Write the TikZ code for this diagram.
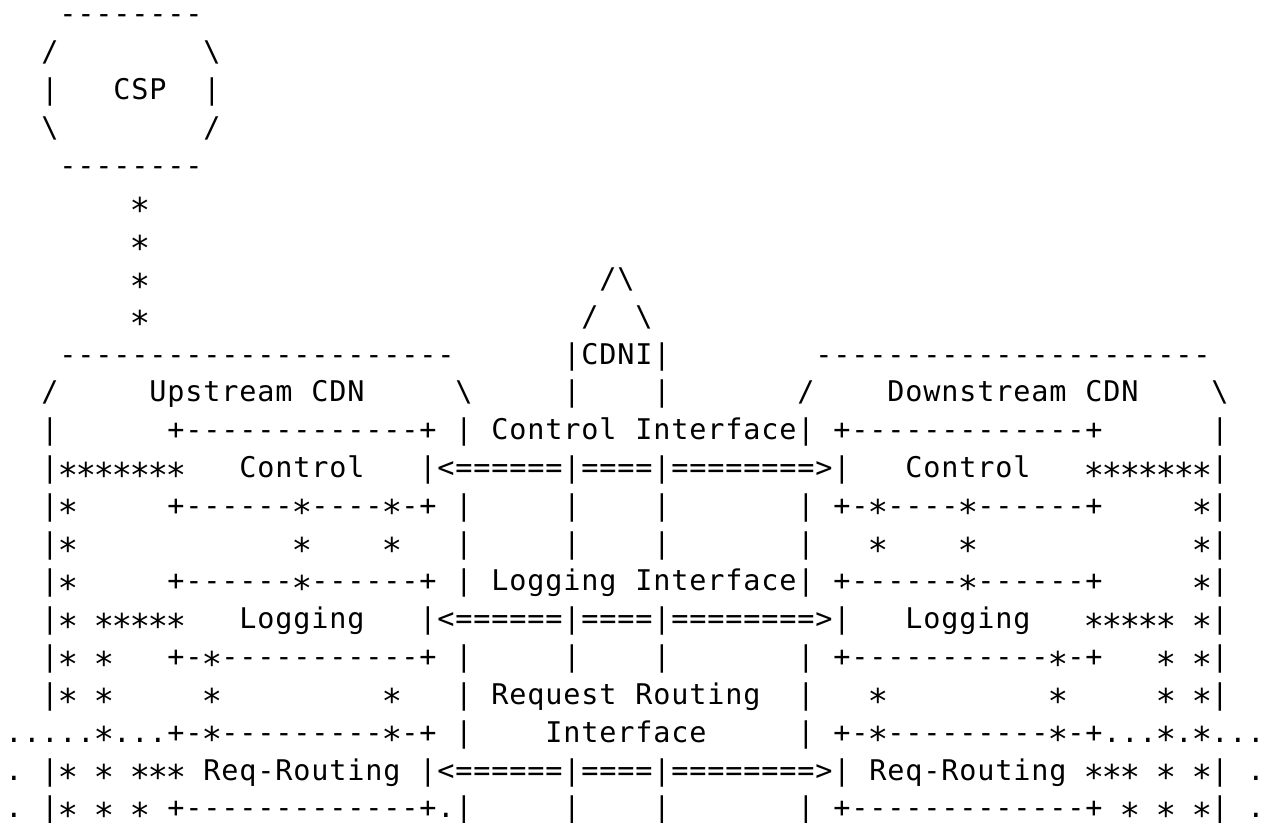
\documentclass[tikz,border=0pt]{standalone}
\usepackage{fontspec}
\setmonofont{DejaVu Sans Mono}
\newcommand\artchar[1]{\ifx*#1\raisebox{-9.5pt}{\scalebox{1.2}{*}}\else#1\fi}
\newcommand\artloop[1]{\ifx\relax#1\else\makebox[18pt]{\artchar{#1}}\expandafter\artloop\fi}
\tikzset{art/.style={anchor=base west, inner sep=0pt, outer sep=0pt,
  font=\ttfamily\fontsize{28.5}{28.5}\selectfont, text=black}}
\newcommand\seg[3]{\node[art] (r#1c#2) at ({5+18*#2},{798-37.8*(#1-1)}) {\artloop#3\relax};}
\begin{document}
\begin{tikzpicture}[x=1pt,y=1pt]
\fill[white] (0,0) rectangle (1274,822);
\useasboundingbox (0,0) rectangle (1274,822);
% CSP
\seg{1}{3}{--------}
\seg{2}{2}{/}\seg{2}{11}{\textbackslash}
\seg{3}{2}{|}\seg{3}{6}{CSP}\seg{3}{11}{|}
\seg{4}{2}{\textbackslash}\seg{4}{11}{/}
\seg{5}{3}{--------}
\seg{6}{7}{*}
\seg{7}{7}{*}
\seg{8}{7}{*}\seg{8}{33}{/\textbackslash}
\seg{9}{7}{*}\seg{9}{32}{/}\seg{9}{35}{\textbackslash}
% CDN tops
\seg{10}{3}{----------------------}\seg{10}{31}{|CDNI|}\seg{10}{45}{----------------------}
\seg{11}{2}{/}\seg{11}{8}{Upstream}\seg{11}{17}{CDN}\seg{11}{25}{\textbackslash}
\seg{11}{31}{|}\seg{11}{36}{|}
\seg{11}{44}{/}\seg{11}{49}{Downstream}\seg{11}{60}{CDN}\seg{11}{67}{\textbackslash}
% row 12
\seg{12}{2}{|}\seg{12}{9}{+-------------+}\seg{12}{25}{|}\seg{12}{27}{Control}\seg{12}{35}{Interface|}
\seg{12}{46}{+-------------+}\seg{12}{67}{|}
% row 13
\seg{13}{2}{|*******}\seg{13}{13}{Control}\seg{13}{23}{|<======|====|========>|}
\seg{13}{50}{Control}\seg{13}{60}{*******|}
% row 14
\seg{14}{2}{|*}\seg{14}{9}{+------*----*-+}\seg{14}{25}{|}\seg{14}{31}{|}\seg{14}{36}{|}\seg{14}{44}{|}
\seg{14}{46}{+-*----*------+}\seg{14}{66}{*|}
% row 15
\seg{15}{2}{|*}\seg{15}{16}{*}\seg{15}{21}{*}\seg{15}{25}{|}\seg{15}{31}{|}\seg{15}{36}{|}\seg{15}{44}{|}
\seg{15}{48}{*}\seg{15}{53}{*}\seg{15}{66}{*|}
% row 16
\seg{16}{2}{|*}\seg{16}{9}{+------*------+}\seg{16}{25}{|}\seg{16}{27}{Logging}\seg{16}{35}{Interface|}
\seg{16}{46}{+------*------+}\seg{16}{66}{*|}
% row 17
\seg{17}{2}{|*}\seg{17}{5}{*****}\seg{17}{13}{Logging}\seg{17}{23}{|<======|====|========>|}
\seg{17}{50}{Logging}\seg{17}{60}{*****}\seg{17}{66}{*|}
% row 18
\seg{18}{2}{|*}\seg{18}{5}{*}\seg{18}{9}{+-*-----------+}\seg{18}{25}{|}\seg{18}{31}{|}\seg{18}{36}{|}\seg{18}{44}{|}
\seg{18}{46}{+-----------*-+}\seg{18}{64}{*}\seg{18}{66}{*|}
% row 19
\seg{19}{2}{|*}\seg{19}{5}{*}\seg{19}{11}{*}\seg{19}{21}{*}\seg{19}{25}{|}\seg{19}{27}{Request}\seg{19}{35}{Routing}\seg{19}{44}{|}
\seg{19}{48}{*}\seg{19}{58}{*}\seg{19}{64}{*}\seg{19}{66}{*|}
% row 20
\seg{20}{0}{.....*...+-*---------*-+}\seg{20}{25}{|}\seg{20}{30}{Interface}\seg{20}{44}{|}
\seg{20}{46}{+-*---------*-+...*.*...}
% row 21
\seg{21}{0}{.}\seg{21}{2}{|*}\seg{21}{5}{*}\seg{21}{7}{***}\seg{21}{11}{Req-Routing}\seg{21}{23}{|<======|====|========>|}
\seg{21}{48}{Req-Routing}\seg{21}{60}{***}\seg{21}{64}{*}\seg{21}{66}{*|}\seg{21}{69}{.}
% row 22
\seg{22}{0}{.}\seg{22}{2}{|*}\seg{22}{5}{*}\seg{22}{7}{*}\seg{22}{9}{+-------------+.|}\seg{22}{31}{|}\seg{22}{36}{|}\seg{22}{44}{|}
\seg{22}{46}{+-------------+}\seg{22}{62}{*}\seg{22}{64}{*}\seg{22}{66}{*|}\seg{22}{69}{.}
\end{tikzpicture}
\end{document}
